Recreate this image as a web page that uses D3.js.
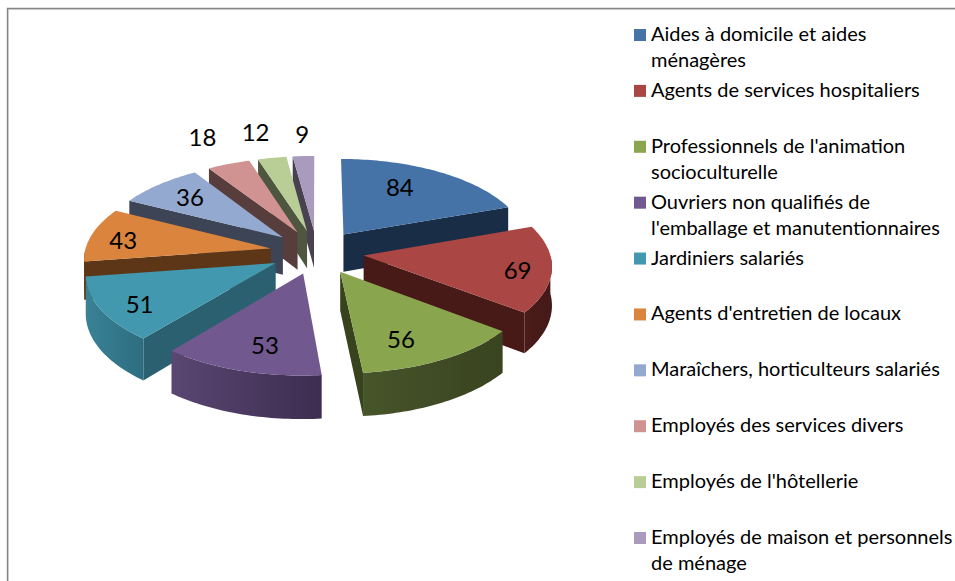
<!DOCTYPE html>
<html>
<head>
    <meta charset="utf-8">
    <title>Pie 3D</title>
    <script src="https://cdnjs.cloudflare.com/ajax/libs/d3/7.8.5/d3.min.js"></script>
    <style>
        html,body{margin:0;padding:0;background:#fff;}
        svg{display:block;}
        text{font-family:Lato,sans-serif;fill:#000;}
    </style>
</head>
<body>
<script>
var w=955, h=581;

// data
var categories=[
    "Aides à domicile et aides ménagères",
    "Agents de services hospitaliers",
    "Professionnels de l'animation socioculturelle",
    "Ouvriers non qualifiés de l'emballage et manutentionnaires",
    "Jardiniers salariés",
    "Agents d'entretien de locaux",
    "Maraîchers, horticulteurs salariés",
    "Employés des services divers",
    "Employés de l'hôtellerie",
    "Employés de maison et personnels de ménage"
];
var values=[84,69,56,53,51,43,36,18,12,9];
// legend line breaks
var legendLines=[
    ["Aides à domicile et aides","ménagères"],
    ["Agents de services hospitaliers"],
    ["Professionnels de l'animation","socioculturelle"],
    ["Ouvriers non qualifiés de","l'emballage et manutentionnaires"],
    ["Jardiniers salariés"],
    ["Agents d'entretien de locaux"],
    ["Maraîchers, horticulteurs salariés"],
    ["Employés des services divers"],
    ["Employés de l'hôtellerie"],
    ["Employés de maison et personnels","de ménage"]
];

// colours
var topColors=["#4572A7","#AA4643","#89A54E","#71588F","#4198AF","#DB843D","#93A9CF","#D19392","#B9CD96","#A99BBD"];
var faceColors=["#1a2d46","#471a18","#38431d","#3f2f55","#2a6070","#5c3617","#3d4456","#573e3d","#4e5640","#474150"];
var rimLeft=["#1a2d46","#4a1c1a","#47552a","#5a4672","#3a8296","#5c3617","#3d4456","#573e3d","#4e5640","#474150"];
var rimRight=["#1a2d46","#441917","#394320","#3d2d50","#2d6d80","#5c3617","#3d4456","#573e3d","#4e5640","#474150"];
// label nudges from the default slice anchor
var labelNudge=[[-4,-8],[38,6],[-1,15],[-1,13],[-30,12],[-36,0],[-14,-7],[-51,-52],[-29,-53],[-5,-49]];

var color=d3.scaleOrdinal().domain(categories).range(topColors);

// pie geometry
var cx=317, cy=252;
var R=186, explode=47, tilt=0.466, camera=1800, depth=38;

var svg=d3.select("body").append("svg").attr("width",w).attr("height",h);
var defs=svg.append("defs");

// frame
svg.append("path").attr("d","M8.5,"+h+"V9.5H"+w).attr("fill","none").attr("stroke","#dcdcdc").attr("stroke-width",1);
svg.append("path").attr("d","M7.5,"+h+"V8.5H"+w).attr("fill","none").attr("stroke","#868686").attr("stroke-width",1.4);

var pie=d3.pie().sort(null).startAngle(0).endAngle(2*Math.PI);
var arcs=pie(values).map(function(d,i){
    d.i=i;
    d.mid=(d.startAngle+d.endAngle)/2;
    return d;
});

// point of a slice at angle a and radius r, dropped by z
function project(d,a,r,z){
    var X=explode*Math.sin(d.mid)+r*Math.sin(a);
    var Y=explode*Math.cos(d.mid)+r*Math.cos(a);
    var f=1/(1+Y/camera);
    return [cx+X*f, cy-Y*tilt*f+z*f];
}
function rimAngles(a0,a1){
    var n=Math.max(2,Math.ceil((a1-a0)/0.02));
    return d3.range(n+1).map(function(k){return a0+(a1-a0)*k/n;});
}

var line=d3.line().curve(d3.curveLinear);

function faceAt(d,a){
    return line([project(d,a,0,0),project(d,a,R,0),project(d,a,R,depth),project(d,a,0,depth)])+"Z";
}

// paint back to front
var order=arcs.slice().sort(function(p,q){return Math.cos(q.mid)-Math.cos(p.mid);});

var slices=svg.selectAll("g.slice").data(order).enter().append("g").attr("class","slice");

slices.each(function(d){
    var g=d3.select(this);

    // cut faces facing the viewer
    if(Math.sin(d.startAngle)<-1e-6){
        g.append("path").attr("d",faceAt(d,d.startAngle)).attr("fill",faceColors[d.i]);
    }
    if(Math.sin(d.endAngle)>1e-6){
        g.append("path").attr("d",faceAt(d,d.endAngle)).attr("fill",faceColors[d.i]);
    }

    // rim, front half only
    var a0=Math.max(d.startAngle,Math.PI/2), a1=Math.min(d.endAngle,3*Math.PI/2);
    if(a1>a0){
        var as=rimAngles(a0,a1);
        var pts=as.map(function(a){return project(d,a,R,0);})
            .concat(as.slice().reverse().map(function(a){return project(d,a,R,depth);}));
        var gid="rim"+d.i;
        var grad=defs.append("linearGradient").attr("id",gid);
        grad.append("stop").attr("offset","0%").attr("stop-color",rimLeft[d.i]);
        grad.append("stop").attr("offset","100%").attr("stop-color",rimRight[d.i]);
        g.append("path").attr("d",line(pts)+"Z").attr("fill","url(#"+gid+")");
    }

    // top
    var topPts=[project(d,d.startAngle,0,0)].concat(rimAngles(d.startAngle,d.endAngle).map(function(a){
        return project(d,a,R,0);
    }));
    g.append("path").attr("d",line(topPts)+"Z").attr("fill",color(categories[d.i]));
});

// value labels
svg.selectAll("text.val").data(arcs).enter().append("text")
    .attr("class","val")
    .attr("text-anchor","middle")
    .attr("dominant-baseline","central")
    .style("font-size","24px")
    .attr("x",function(d){return project(d,d.mid,R*0.62,0)[0]+labelNudge[d.i][0];})
    .attr("y",function(d){return project(d,d.mid,R*0.62,0)[1]+labelNudge[d.i][1];})
    .text(function(d){return d.value;});

// legend
var legendY=d3.scalePoint().domain(categories).range([35,538]);
var legend=svg.selectAll("g.leg").data(categories).enter().append("g").attr("class","leg")
    .attr("transform",function(d){return "translate(634,"+legendY(d)+")";});
legend.append("rect")
    .attr("x",0).attr("y",-6).attr("width",12).attr("height",12)
    .attr("fill",function(d){return color(d);});
legend.each(function(d,i){
    var g=d3.select(this);
    legendLines[i].forEach(function(t,j){
        g.append("text")
            .attr("x",17).attr("y",j*26+6)
            .style("font-size","20px")
            .text(t);
    });
});
</script>
</body>
</html>
